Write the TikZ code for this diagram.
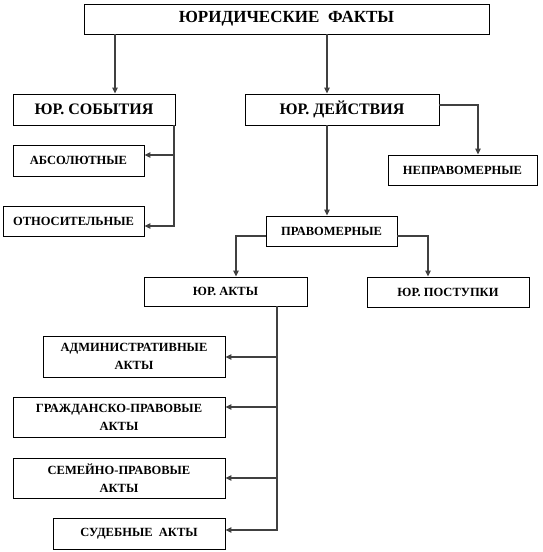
\documentclass[tikz,border=0pt]{standalone}
\usepackage{fontspec}
\setmainfont{Liberation Serif}
\usetikzlibrary{arrows.meta}
\tikzset{
  box/.style={draw=black, line width=0.9pt, fill=white, inner sep=0pt, align=center, font=\bfseries\fontsize{12.5}{18}\selectfont},
  bigbox/.style={box, font=\bfseries\fontsize{16}{19}\selectfont},
  titlebox/.style={box, font=\bfseries\fontsize{17}{20}\selectfont},
  conn/.style={draw=black!75, line width=1.2pt, -{Triangle[length=6pt,width=5.5pt]}}
}
\newcommand{\bx}[7]{% style, name, x1,y1,x2,y2, text
  \node[#1, minimum width={(#5-#3)*1pt}, minimum height={(#6-#4)*1pt}] (#2) at ({(#3+#5)/2},{(#4+#6)/2}) {#7};}
\begin{document}
\begin{tikzpicture}[x=1pt,y=-1pt]
\useasboundingbox (0,0) rectangle (542,552);
\bx{titlebox}{title}{84}{4}{489}{34}{ЮРИДИЧЕСКИЕ\ \ ФАКТЫ}
\bx{bigbox}{sob}{13}{94}{175}{125}{ЮР. СОБЫТИЯ}
\bx{bigbox}{dei}{245}{94}{439}{125}{ЮР. ДЕЙСТВИЯ}
\bx{box}{abs}{13}{145}{144}{176}{АБСОЛЮТНЫЕ}
\bx{box}{otn}{3}{206}{144}{236}{ОТНОСИТЕЛЬНЫЕ}
\bx{box}{nepr}{388}{155}{537}{185}{НЕПРАВОМЕРНЫЕ}
\bx{box}{prav}{266}{216}{397}{246}{ПРАВОМЕРНЫЕ}
\bx{box}{akty}{144}{277}{307}{306}{ЮР. АКТЫ}
\bx{box}{post}{367}{277}{529}{307}{ЮР. ПОСТУПКИ}
\bx{box}{adm}{43}{336}{225}{377}{АДМИНИСТРАТИВНЫЕ\\АКТЫ}
\bx{box}{grazh}{13}{397}{225}{437}{ГРАЖДАНСКО-ПРАВОВЫЕ\\АКТЫ}
\bx{box}{sem}{13}{458}{225}{498}{СЕМЕЙНО-ПРАВОВЫЕ\\АКТЫ}
\bx{box}{sud}{53}{518}{225}{549}{СУДЕБНЫЕ\ \ АКТЫ}
% junction coordinates
\coordinate (j1) at (115,0);
\coordinate (j2) at (327,0);
\coordinate (j3) at (478,105);
\coordinate (j4) at (174,155);
\coordinate (j5) at (174,226);
\coordinate (j6) at (236,236);
\coordinate (j7) at (428,236);
\coordinate (k1) at (277,357);
\coordinate (k2) at (277,407);
\coordinate (k3) at (277,478);
\coordinate (k4) at (277,530);
% connectors
\draw[conn] (title.south -| j1) -- (sob.north -| j1);
\draw[conn] (title.south -| j2) -- (dei.north -| j2);
\draw[conn] (dei.east |- j3) -| (nepr.north -| j3);
\draw[conn] (dei.south -| j2) -- (prav.north -| j2);
\draw[conn] (sob.south -| j5) |- (otn.east |- j5);
\draw[conn] (j4) -- (abs.east |- j4);
\draw[conn] (prav.west |- j6) -| (akty.north -| j6);
\draw[conn] (prav.east |- j7) -| (post.north -| j7);
\draw[conn] (akty.south -| k4) |- (sud.east |- k4);
\draw[conn] (k1) -- (adm.east |- k1);
\draw[conn] (k2) -- (grazh.east |- k2);
\draw[conn] (k3) -- (sem.east |- k3);
\end{tikzpicture}
\end{document}
